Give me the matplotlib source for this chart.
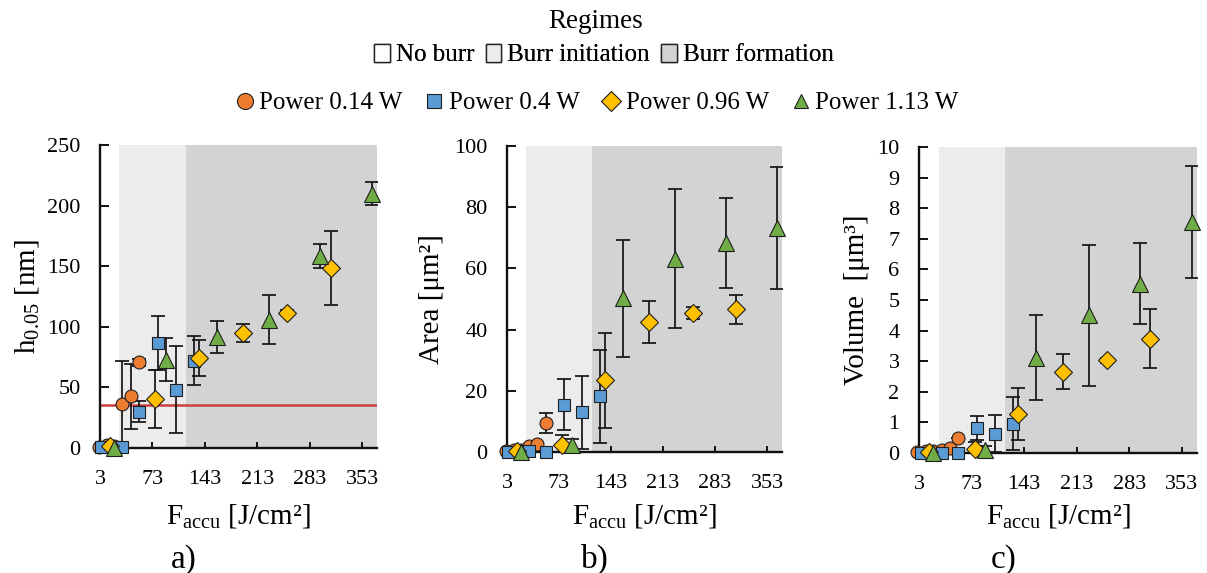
import matplotlib
matplotlib.use('Agg')
import matplotlib.pyplot as plt
from matplotlib.lines import Line2D
from matplotlib.patches import Patch

plt.rcParams['font.family'] = ['Liberation Serif', 'DejaVu Serif']
plt.rcParams['mathtext.fontset'] = 'custom'
plt.rcParams['mathtext.rm'] = 'Liberation Serif'
plt.rcParams['mathtext.it'] = 'Liberation Serif:italic'
plt.rcParams['mathtext.bf'] = 'Liberation Serif:bold'

# ---------------- data ----------------
series_labels = ['Power 0.14 W', 'Power 0.4 W', 'Power 0.96 W', 'Power 1.13 W']

x_014 = [1, 12, 22, 33, 44, 55]
x_04 = [5, 33, 55, 80, 104, 128]
x_096 = [16, 77, 135, 194, 253, 311]
x_113 = [22, 91, 159, 229, 297, 366]

# panel a: h0.05 [nm]
h_014 = [1, 2.5, 1.5, 36.5, 42.6, 70.6]
h_014_err = [0, 0, 0, 35, 27, 3]
h_04 = [0.5, 0.5, 30, 86.5, 48, 72]
h_04_err = [0, 0, 8.8, 22, 36, 20]
h_096 = [1.4, 40.4, 74, 95, 111.5, 148.5]
h_096_err = [0, 24, 15, 7.5, 2, 30.5]
h_113 = [0, 73, 91.5, 106, 158.5, 209.6]
h_113_err = [0, 18, 13, 20.6, 10, 9.5]
h_threshold = 35.5

# panel b: Area [um2]
a_014 = [0.3, 0.5, 0.5, 1.9, 2.7, 9.5]
a_014_err = [0, 0, 0, 0, 0, 3.2]
a_04 = [0, 0.2, 0, 15.5, 13, 18.2]
a_04_err = [0, 0, 0, 8.2, 12, 15.2]
a_096 = [0.3, 2.4, 23.4, 42.5, 45.5, 46.6]
a_096_err = [0, 3.3, 15.6, 6.8, 2, 4.8]
a_113 = [0, 2.2, 50.2, 63.2, 68.2, 73.3]
a_113_err = [0, 2, 19, 22.7, 14.7, 19.9]

# panel c: Volume [um3]
v_014 = [0.03, 0.05, 0.05, 0.1, 0.17, 0.5]
v_014_err = [0, 0, 0, 0, 0, 0]
v_04 = [0, 0, 0, 0.82, 0.63, 0.96]
v_04_err = [0, 0, 0, 0.4, 0.6, 0.87]
v_096 = [0.03, 0.12, 1.26, 2.65, 3.03, 3.74]
v_096_err = [0, 0.25, 0.85, 0.57, 0.08, 0.97]
v_113 = [0, 0.09, 3.12, 4.5, 5.53, 7.55]
v_113_err = [0, 0.15, 1.38, 2.3, 1.32, 1.84]

# regimes (accumulated fluence boundaries)
regime_labels = ['No burr', 'Burr initiation', 'Burr formation']
init_start = 29
form_start = 118

x_ticks = [3, 73, 143, 213, 283, 353]
x_lim = (3, 373)

# ---------------- style ----------------
colors = ['#ED7D31', '#5B9BD5', '#FFC000', '#70AD47']
markers = ['o', 's', 'D', '^']
msizes = [9.3, 8.3, 8.8, 11.8]
regime_colors = ['#FFFFFF', '#EDECED', '#D3D3D3']
edge = '#1E1E1E'

W, H = 1207, 573
fig = plt.figure(figsize=(W / 100, H / 100), dpi=100)

def fx(px):
    return px / W

def fy(py):
    return 1 - py / H

# axes positions in pixels: left, right, top, bottom
boxes = [(100, 377, 145, 448), (507, 782, 146, 452), (919, 1197, 147, 453)]

panels = [
    dict(xs=[x_014, x_04, x_096, x_113],
         ys=[h_014, h_04, h_096, h_113],
         es=[h_014_err, h_04_err, h_096_err, h_113_err],
         ylim=(0, 250), yticks=[0, 50, 100, 150, 200, 250],
         ylabel=r'h$_{\mathrm{0.05}}$ [nm]', ylab_x=27, tag='a)', tag_x=184),
    dict(xs=[x_014, x_04, x_096, x_113],
         ys=[a_014, a_04, a_096, a_113],
         es=[a_014_err, a_04_err, a_096_err, a_113_err],
         ylim=(0, 100), yticks=[0, 20, 40, 60, 80, 100],
         ylabel='Area [μm²]', ylab_x=432, tag='b)', tag_x=595),
    dict(xs=[x_014, x_04, x_096, x_113],
         ys=[v_014, v_04, v_096, v_113],
         es=[v_014_err, v_04_err, v_096_err, v_113_err],
         ylim=(0, 10), yticks=list(range(0, 11)),
         ylabel='Volume  [μm³]', ylab_x=857, tag='c)', tag_x=1004),
]

for i, (p, b) in enumerate(zip(panels, boxes)):
    l, r, t, btm = b
    ax = fig.add_axes([fx(l), fy(btm), fx(r - l), (btm - t) / H])
    ax.set_xlim(*x_lim)
    ax.set_ylim(*p['ylim'])
    ax.axvspan(init_start, form_start, color=regime_colors[1], lw=0, zorder=0)
    ax.axvspan(form_start, x_lim[1], color=regime_colors[2], lw=0, zorder=0)
    if i == 0:
        ax.axhline(h_threshold, color='#CC3F3C', lw=1.8, zorder=1)
    for k in range(4):
        ax.errorbar(p['xs'][k], p['ys'][k], yerr=p['es'][k], fmt='none',
                    ecolor='#141414', elinewidth=1.25, capsize=4.8,
                    capthick=1.25, zorder=3)
    for k in range(4):
        ax.plot(p['xs'][k], p['ys'][k], ls='none', marker=markers[k],
                ms=msizes[k], mfc=colors[k], mec=edge, mew=0.8,
                zorder=4 + k, clip_on=False)
    for s in ['top', 'right']:
        ax.spines[s].set_visible(False)
    for s in ['left', 'bottom']:
        ax.spines[s].set_linewidth(1.7)
        ax.spines[s].set_color('#111111')
        ax.spines[s].set_zorder(2)
    ax.set_xticks(x_ticks)
    ax.set_yticks(p['yticks'])
    ax.tick_params(axis='y', direction='in', length=6.5, width=1.3,
                   labelsize=16, pad=14)
    ax.tick_params(axis='x', direction='in', length=4, width=1.3,
                   labelsize=16, pad=15.5)
    ax.set_ylabel(p['ylabel'], fontsize=21)
    ax.yaxis.set_label_coords(fx(p['ylab_x']), fy((t + btm) / 2),
                              transform=fig.transFigure)
    ax.yaxis.label.set_va('center')
    ax.set_xlabel(r'F$_{\mathrm{accu}}$ [J/cm²]', fontsize=21)
    ax.xaxis.set_label_coords(fx((l + r) / 2), fy(523),
                              transform=fig.transFigure)
    ax.xaxis.label.set_va('baseline')
    fig.text(fx(p['tag_x']), fy(568), p['tag'], fontsize=24,
             ha='center', va='baseline')

# regimes legend
fig.text(fx(596), fy(21), 'Regimes', fontsize=19.5, ha='center', va='center')
reg_handles = [Patch(facecolor=c, edgecolor='#222222', lw=1.0)
               for c in regime_colors]
leg1 = fig.legend(reg_handles, regime_labels, loc='center',
                  bbox_to_anchor=(fx(604), fy(55)), ncol=3, frameon=False,
                  fontsize=18,
                  handlelength=0.62, handleheight=0.75, handletextpad=0.25,
                  columnspacing=0.45, borderpad=0.1, labelspacing=0.2)
fig.add_artist(leg1)

# series legend
ser_handles = [Line2D([], [], ls='none', marker=m, ms=s, mfc=c, mec=edge,
                      mew=0.8)
               for m, s, c in zip(markers, [11.5, 10.5, 10.0, 9.5], colors)]
fig.legend(ser_handles, series_labels, loc='center',
           bbox_to_anchor=(fx(597), fy(103)), ncol=4, frameon=False,
           fontsize=18, handlelength=0.75, handletextpad=0.2,
           columnspacing=0.9, borderpad=0.1)

fig.savefig('out.png', dpi=100)
